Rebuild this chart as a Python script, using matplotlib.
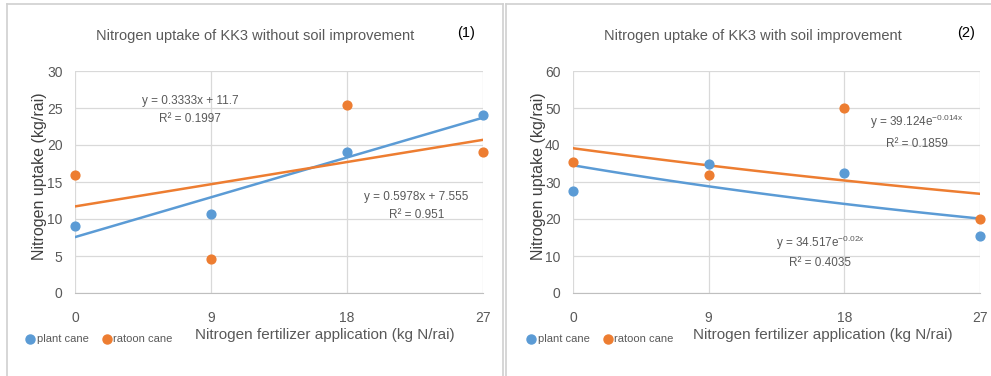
import matplotlib
matplotlib.use('Agg')
import matplotlib.pyplot as plt
from matplotlib.lines import Line2D
import numpy as np

plt.rcParams['font.family'] = ['Liberation Sans', 'DejaVu Sans']
plt.rcParams['mathtext.fontset'] = 'custom'
plt.rcParams['mathtext.rm'] = 'Liberation Sans'

# fertilizer levels (kg N/rai)
n_rate = [0, 9, 18, 27]

# panel 1: without soil improvement
plant_no = [9.0, 10.7, 19.0, 24.0]
ratoon_no = [16.0, 4.6, 25.4, 19.0]
# linear trend lines y = a*x + b, R2
plant_no_fit = (0.5978, 7.555, 0.951)
ratoon_no_fit = (0.3333, 11.7, 0.1997)

# panel 2: with soil improvement
plant_si = [27.5, 35.0, 32.5, 15.5]
ratoon_si = [35.3, 32.0, 50.0, 20.0]
# exponential trend lines y = a*exp(k*x), R2
plant_si_fit = (34.517, -0.02, 0.4035)
ratoon_si_fit = (39.124, -0.014, 0.1859)

BLUE = '#5B9BD5'
ORANGE = '#ED7D31'
GRID = '#D9D9D9'
TXT = '#595959'

W, H = 991, 376
fig = plt.figure(figsize=(W / 100, H / 100), dpi=100)
fig.patch.set_facecolor('white')


def px(x, y):
    return x / W, 1 - y / H


# panel frames
for x0, x1 in [(7, 503), (506, 991)]:
    fig.add_artist(Line2D([x0 / W, x1 / W], [1 - 4 / H] * 2, color='#D0D0D0', lw=1.2))
    fig.add_artist(Line2D([x0 / W] * 2, [0, 1 - 4 / H], color='#D0D0D0', lw=1.2))
fig.add_artist(Line2D([503 / W] * 2, [0, 1 - 4 / H], color='#D0D0D0', lw=1.2))

xx = np.linspace(0, 27, 100)


def style_axes(ax, ymax, step):
    ax.set_xlim(0, 27)
    ax.set_ylim(0, ymax)
    ax.set_xticks(n_rate)
    ax.set_yticks(np.arange(0, ymax + 1, step))
    ax.grid(True, color=GRID, lw=0.9)
    ax.set_axisbelow(True)
    for s in ['top', 'right', 'left']:
        ax.spines[s].set_visible(False)
    ax.spines['bottom'].set_color('#BFBFBF')
    ax.tick_params(length=0, labelsize=10, labelcolor=TXT, pad=9)
    ax.tick_params(axis='x', pad=13)


def eq_text(ax, x, y, s):
    ax.text(x, y, s, ha='center', va='center', fontsize=8.5, color=TXT)


def exp_label(a, k):
    return f'y = {a}e$^{{\\mathregular{{{k}x}}}}$'


# ---- panel 1 ----
ax1 = fig.add_axes([75 / W, 1 - 293 / H, 408 / W, 222 / H])
style_axes(ax1, 30, 5)
ax1.plot(xx, plant_no_fit[0] * xx + plant_no_fit[1], color=BLUE, lw=1.8, zorder=2)
ax1.plot(xx, ratoon_no_fit[0] * xx + ratoon_no_fit[1], color=ORANGE, lw=1.8, zorder=2)
ax1.scatter(n_rate, plant_no, s=40, color=BLUE, zorder=3, clip_on=False)
ax1.scatter(n_rate, ratoon_no, s=40, color=ORANGE, zorder=3, clip_on=False)
eq_text(ax1, 7.6, 26.0, f'y = {ratoon_no_fit[0]}x + {ratoon_no_fit[1]}')
eq_text(ax1, 7.6, 23.5, f'R² = {ratoon_no_fit[2]}')
eq_text(ax1, 22.6, 13.0, f'y = {plant_no_fit[0]}x + {plant_no_fit[1]}')
eq_text(ax1, 22.6, 10.5, f'R² = {plant_no_fit[2]}')

# ---- panel 2 ----
ax2 = fig.add_axes([573 / W, 1 - 293 / H, 407 / W, 222 / H])
style_axes(ax2, 60, 10)
ax2.plot(xx, plant_si_fit[0] * np.exp(plant_si_fit[1] * xx), color=BLUE, lw=1.8, zorder=2)
ax2.plot(xx, ratoon_si_fit[0] * np.exp(ratoon_si_fit[1] * xx), color=ORANGE, lw=1.8, zorder=2)
ax2.scatter(n_rate, plant_si, s=40, color=BLUE, zorder=3, clip_on=False)
ax2.scatter(n_rate, ratoon_si, s=40, color=ORANGE, zorder=3, clip_on=False)
eq_text(ax2, 22.8, 46.2, exp_label(ratoon_si_fit[0], ratoon_si_fit[1]))
eq_text(ax2, 22.8, 40.3, f'R² = {ratoon_si_fit[2]}')
eq_text(ax2, 16.4, 13.5, exp_label(plant_si_fit[0], plant_si_fit[1]))
eq_text(ax2, 16.4, 8.2, f'R² = {plant_si_fit[2]}')

# titles, axis labels, legends
titles = ['Nitrogen uptake of KK3 without soil improvement',
          'Nitrogen uptake of KK3 with soil improvement']
for i, off in enumerate([0, 498]):
    lo = off + (3 if i else 0)
    fig.text(*px(255 + off, 36), titles[i], ha='center', va='center', fontsize=10.5, color=TXT)
    fig.text(*px(466 + off + (2 if i else 0), 33), f'({i + 1})', ha='center', va='center',
             fontsize=10.5, color='black')
    fig.text(*px(40 + off, 176), 'Nitrogen uptake (kg/rai)', rotation=90, ha='center', va='center',
             fontsize=11.5, color='#404040')
    fig.text(*px(325 + off, 335), 'Nitrogen fertilizer application (kg N/rai)', ha='center', va='center',
             fontsize=11, color=TXT)
    fig.add_artist(Line2D([(30 + lo) / W], [1 - 339 / H], marker='o', ms=6.5, color=BLUE, ls=''))
    fig.text(*px(37 + lo, 339), 'plant cane', ha='left', va='center', fontsize=8, color=TXT)
    fig.add_artist(Line2D([(107 + lo) / W], [1 - 339 / H], marker='o', ms=6.5, color=ORANGE, ls=''))
    fig.text(*px(113 + lo, 339), 'ratoon cane', ha='left', va='center', fontsize=8, color=TXT)

fig.savefig('out.png', dpi=100)
